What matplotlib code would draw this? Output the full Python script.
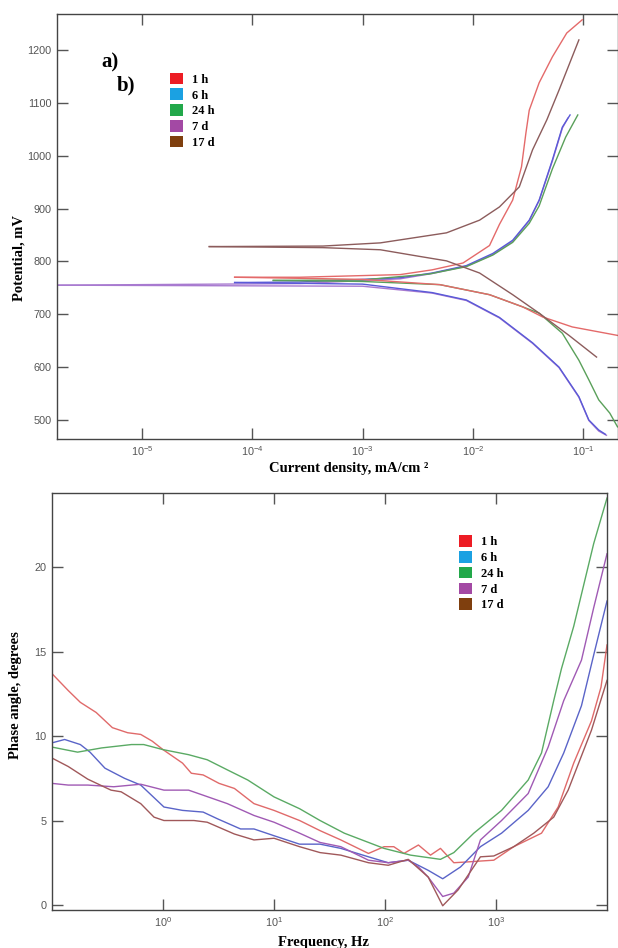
import numpy as np
import matplotlib
matplotlib.use("Agg")
import matplotlib.pyplot as plt
from matplotlib.patches import Patch
from matplotlib.ticker import FixedLocator, NullLocator

# ---- data: polarization curves (log10 current density in mA/cm2, potential in mV) ----
series = ["1 h", "6 h", "24 h", "7 d", "17 d"]
legend_colors = ["#ed1c24", "#1ba1e2", "#22a84a", "#a349a4", "#7f3f0e"]

top_colors = ["#e46a6a", "#5a5ad8", "#5aa05a", "#a87ad0", "#8c5c5c"]

logi_1h_an = [-4.16, -3.57, -2.66, -2.37, -2.09, -1.85, -1.76, -1.64, -1.56, -1.52, -1.49, -1.40, -1.28, -1.15, -1.01]
E_1h_an = [770, 770, 775, 784, 797, 830, 870, 916, 979, 1043, 1086, 1138, 1187, 1232, 1257]
logi_1h_ca = [-4.16, -3.0, -2.3, -1.85, -1.55, -1.37, -1.10, -0.69]
E_1h_ca = [770, 766, 756, 737, 714, 695, 676, 660]

logi_6h_an = [-4.16, -3.57, -2.66, -2.37, -2.06, -1.82, -1.64, -1.49, -1.40, -1.28, -1.19, -1.12]
E_6h_an = [760, 761, 769, 778, 792, 815, 840, 878, 916, 992, 1054, 1077]
logi_6h_ca = [-4.16, -3.0, -2.37, -2.06, -1.76, -1.46, -1.22, -1.04, -0.95, -0.86, -0.80]
E_6h_ca = [760, 757, 741, 727, 694, 646, 600, 544, 500, 481, 473]

logi_24h_an = [-3.81, -3.0, -2.4, -2.06, -1.82, -1.64, -1.49, -1.40, -1.28, -1.16, -1.05]
E_24h_an = [764, 765, 776, 790, 812, 836, 872, 905, 975, 1035, 1077]
logi_24h_ca = [-3.81, -3.0, -2.30, -1.85, -1.55, -1.40, -1.19, -1.04, -0.95, -0.86, -0.76, -0.69]
E_24h_ca = [764, 762, 756, 737, 714, 702, 664, 613, 576, 538, 513, 487]

logi_7d_an = [-5.77, -3.57, -2.66, -2.37, -2.06, -1.82, -1.64, -1.49, -1.40, -1.28, -1.19, -1.14]
E_7d_an = [755, 758, 767, 777, 791, 813, 838, 877, 915, 990, 1052, 1071]
logi_7d_ca = [-5.77, -3.0, -2.37, -2.06, -1.76, -1.46, -1.22, -1.04, -0.95, -0.86, -0.79]
E_7d_ca = [755, 753, 740, 726, 693, 645, 599, 543, 499, 479, 471]

logi_17d_an = [-4.39, -3.36, -2.84, -2.24, -1.94, -1.76, -1.58, -1.46, -1.33, -1.22, -1.04]
E_17d_an = [828, 829, 835, 854, 878, 903, 941, 1011, 1068, 1124, 1219]
logi_17d_ca = [-4.39, -3.36, -2.84, -2.5, -2.24, -1.94, -1.64, -1.40, -1.13, -0.88]
E_17d_ca = [828, 826, 822, 810, 801, 778, 737, 702, 660, 619]

# ---- data: phase angle vs frequency ----
f_1h = [0.10, 0.14, 0.18, 0.25, 0.35, 0.48, 0.63, 0.8, 1.0, 1.5, 1.8, 2.3, 3.2, 4.4, 6.6, 10, 17, 26, 40, 71, 98,
        120, 148, 200, 257, 316, 417, 562, 724, 955, 1445, 2570, 3631, 5012, 7244, 8830, 10000]
ph_1h = [13.7, 12.7, 12.0, 11.4, 10.5, 10.2, 10.1, 9.7, 9.2, 8.4, 7.8, 7.7, 7.2, 6.9, 6.0, 5.6, 5.0, 4.4, 3.85, 3.05, 3.45,
         3.45, 3.05, 3.55, 2.95, 3.35, 2.5, 2.55, 2.6, 2.65, 3.45, 4.25, 5.8, 8.4, 10.9, 12.9, 15.4]

f_6h = [0.10, 0.13, 0.18, 0.22, 0.30, 0.45, 0.63, 1.02, 1.5, 2.3, 3.1, 5.0, 6.6, 10, 17, 26, 40, 71, 107, 162, 245,
        331, 479, 724, 1122, 1950, 2951, 4074, 5888, 7586, 10000]
ph_6h = [9.6, 9.8, 9.5, 9.05, 8.1, 7.5, 7.1, 5.8, 5.6, 5.5, 5.1, 4.5, 4.5, 4.1, 3.6, 3.6, 3.35, 2.85, 2.5, 2.65, 2.05,
         1.55, 2.25, 3.45, 4.25, 5.6, 7.0, 9.0, 11.8, 14.8, 18.0]

f_24h = [0.10, 0.17, 0.28, 0.52, 0.67, 1.0, 1.7, 2.5, 3.8, 5.8, 10, 17, 26, 43, 98, 170, 316, 417, 631, 1122, 1950,
         2570, 3311, 3890, 5012, 7586, 10000]
ph_24h = [9.35, 9.05, 9.3, 9.5, 9.5, 9.2, 8.9, 8.6, 8.0, 7.4, 6.4, 5.7, 5.0, 4.25, 3.35, 2.95, 2.7, 3.1, 4.25, 5.6, 7.4,
          9.0, 12.1, 14.0, 16.5, 21.4, 24.1]

f_7d = [0.10, 0.14, 0.21, 0.36, 0.63, 1.02, 1.7, 2.3, 3.8, 6.6, 10, 17, 26, 40, 71, 107, 162, 200, 245, 331, 417,
        562, 724, 1122, 1950, 2951, 4074, 5888, 7586, 10000]
ph_7d = [7.2, 7.1, 7.1, 7.0, 7.15, 6.8, 6.8, 6.5, 6.0, 5.3, 4.9, 4.25, 3.7, 3.45, 2.65, 2.5, 2.65, 2.25, 1.65, 0.5, 0.7,
         1.65, 3.85, 5.0, 6.6, 9.35, 12.1, 14.5, 17.6, 20.8]

f_17d = [0.10, 0.14, 0.21, 0.34, 0.42, 0.63, 0.83, 1.02, 1.9, 2.5, 4.4, 6.6, 10, 17, 26, 40, 71, 107, 162, 245, 331,
         457, 724, 955, 1445, 2188, 3311, 4467, 7244, 10000]
ph_17d = [8.7, 8.2, 7.45, 6.8, 6.7, 6.0, 5.2, 5.0, 5.0, 4.9, 4.2, 3.85, 3.95, 3.45, 3.1, 2.95, 2.5, 2.35, 2.7, 1.65, -0.05,
          0.9, 2.85, 2.9, 3.45, 4.25, 5.2, 6.8, 10.35, 13.3]

bot_colors = ["#e06a6a", "#5a64c8", "#5aaa64", "#a05ab4", "#a0585a"]

serif = "Liberation Serif"
tick_color = "#555555"

fig = plt.figure(figsize=(6.18, 9.48), dpi=100)
W, H = 618, 948
ax1 = fig.add_axes([57 / W, 1 - 439 / H, (617.5 - 57) / W, (439 - 14) / H])
ax2 = fig.add_axes([52 / W, 1 - 910 / H, (607 - 52) / W, (910 - 493) / H])

# ---- top: polarization ----
branches = [
    (logi_1h_an, E_1h_an, logi_1h_ca, E_1h_ca),
    (logi_6h_an, E_6h_an, logi_6h_ca, E_6h_ca),
    (logi_24h_an, E_24h_an, logi_24h_ca, E_24h_ca),
    (logi_7d_an, E_7d_an, logi_7d_ca, E_7d_ca),
    (logi_17d_an, E_17d_an, logi_17d_ca, E_17d_ca),
]
order = [3, 1, 2, 0, 4]
for k in order:
    la, ea, lc, ec = branches[k]
    ax1.plot(np.power(10.0, la), ea, color=top_colors[k], lw=1.0)
    ax1.plot(np.power(10.0, lc), ec, color=top_colors[k], lw=1.0)

ax1.set_xscale("log")
ax1.set_xlim(10 ** -5.77, 10 ** -0.69)
ax1.set_ylim(464, 1268)
ax1.xaxis.set_major_locator(FixedLocator([1e-5, 1e-4, 1e-3, 1e-2, 1e-1]))
ax1.xaxis.set_minor_locator(NullLocator())
ax1.yaxis.set_major_locator(FixedLocator([500, 600, 700, 800, 900, 1000, 1100, 1200]))

ax1.set_xlabel("Current density, mA/cm ²", fontfamily=serif, fontweight="bold", fontsize=10.5)
ax1.xaxis.set_label_coords(0.52, -0.055)
ax1.set_ylabel("Potential, mV", fontfamily=serif, fontweight="bold", fontsize=10.5)
ax1.yaxis.set_label_coords(-0.057, 0.426)

ax1.text(0.080, 0.887, "a)", transform=ax1.transAxes, fontfamily=serif, fontweight="bold",
         fontsize=15, va="center", ha="left")
ax1.text(0.107, 0.831, "b)", transform=ax1.transAxes, fontfamily=serif, fontweight="bold",
         fontsize=15, va="center", ha="left")

# ---- bottom: phase angle ----
freqs = [f_1h, f_6h, f_24h, f_7d, f_17d]
phases = [ph_1h, ph_6h, ph_24h, ph_7d, ph_17d]
for k in range(5):
    ax2.plot(freqs[k], phases[k], color=bot_colors[k], lw=1.0)

ax2.set_xscale("log")
ax2.set_xlim(0.1, 10000)
ax2.set_ylim(-0.3, 24.4)
ax2.xaxis.set_major_locator(FixedLocator([1, 10, 100, 1000]))
ax2.xaxis.set_minor_locator(NullLocator())
ax2.yaxis.set_major_locator(FixedLocator([0, 5, 10, 15, 20]))

ax2.set_xlabel("Frequency, Hz", fontfamily=serif, fontweight="bold", fontsize=10.5)
ax2.xaxis.set_label_coords(0.49, -0.062)
ax2.set_ylabel("Phase angle, degrees", fontfamily=serif, fontweight="bold", fontsize=10.5)
ax2.yaxis.set_label_coords(-0.054, 0.516)

for ax in (ax1, ax2):
    ax.tick_params(which="both", direction="in", top=True, right=True, length=8, width=1,
                   color=tick_color, labelcolor=tick_color, labelsize=7.8, pad=4)
    for lab in ax.get_xticklabels() + ax.get_yticklabels():
        lab.set_fontfamily("Liberation Sans")
    for sp in ax.spines.values():
        sp.set_color("#444444")
        sp.set_linewidth(1.0)

handles = [Patch(facecolor=c, edgecolor="none") for c in legend_colors]
leg_kw = dict(frameon=False, loc="upper left", borderaxespad=0, borderpad=0,
              handlelength=1.05, handleheight=1.05, handletextpad=0.7, labelspacing=0.22,
              prop={"family": serif, "weight": "bold", "size": 9})
ax1.legend(handles, series, bbox_to_anchor=(0.202, 0.862), **leg_kw)
ax2.legend(handles, series, bbox_to_anchor=(0.733, 0.899), **leg_kw)

fig.savefig("out.png", dpi=100)
